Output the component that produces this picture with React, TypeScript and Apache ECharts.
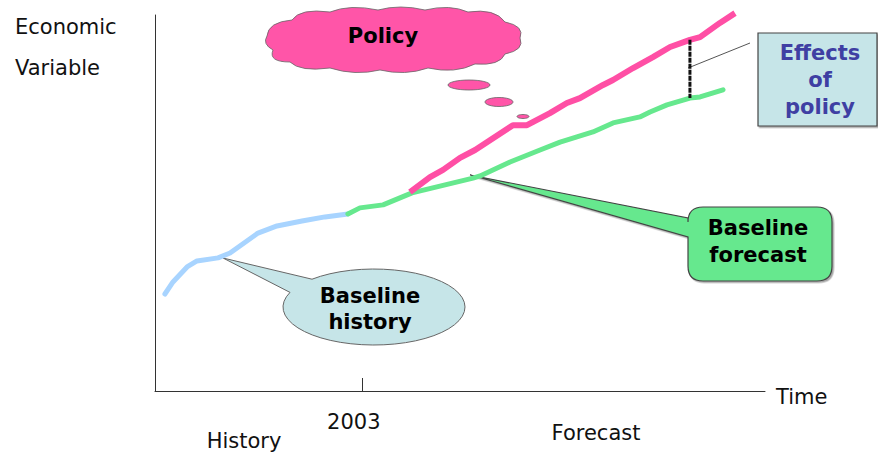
import React, { useEffect, useRef } from "react";
import * as echarts from "echarts";

// ---- data (years on x, index of the economic variable on y) ----
const historyYears = [1993.48, 1993.87, 1994.55, 1995.03, 1996.05, 1996.63, 1997.98, 1998.9, 2000.11, 2001.22, 2002.33];
const historyValues = [25.8, 29.0, 33.0, 34.6, 35.4, 36.7, 42.0, 43.9, 45.2, 46.3, 47.1];

const baselineYears = [2002.33, 2002.91, 2004.03, 2005.43, 2008.38, 2008.72, 2010.17, 2011.62, 2012.59, 2014.18, 2015.15, 2016.45, 2016.94, 2017.76, 2018.87, 2019.36, 2020.47];
const baselineValues = [47.1, 48.7, 49.5, 52.7, 56.6, 57.2, 60.9, 64.1, 66.2, 68.9, 71.3, 72.9, 74.2, 76.1, 77.9, 78.2, 80.1];

const policyYears = [2005.33, 2006.3, 2006.93, 2007.75, 2008.48, 2010.31, 2010.99, 2012.1, 2012.92, 2013.55, 2014.67, 2015.15, 2016.12, 2017.08, 2017.91, 2018.87, 2019.36, 2020.32, 2021.05];
const policyValues = [52.9, 56.9, 58.8, 62.0, 64.1, 70.7, 70.7, 73.9, 76.6, 77.9, 81.4, 82.7, 85.9, 88.8, 91.5, 93.4, 94.1, 97.9, 100.5];

const effectYear = 2018.87;
const splitYear = 2003;
const xMin = 1993;
const xMax = 2022.5;

const pair = (xs: number[], ys: number[]) => xs.map((x, i) => [x, ys[i]]);

// ---- shapes ----
const cloudPath =
  "M267,36 Q268,22 292,20 Q300,8 330,12 Q350,4 378,10 Q400,4 425,10 Q450,4 468,12 Q495,8 505,22 Q525,26 520,38 Q525,50 505,54 Q500,66 475,64 Q455,74 428,68 Q405,76 380,70 Q355,76 330,68 Q300,72 290,62 Q268,62 273,50 Q262,44 267,36 Z";
const historyBubblePath = "M223,258 L312,279.2 A91,38 0 1 1 290,292.4 Z";
const forecastBoxPath =
  "M703,207 L817,207 Q832,207 832,222 L832,266 Q832,281 817,281 L703,281 Q688,281 688,266 L688,237 L478,177 L470,175 L688,218 L688,222 Q688,207 703,207 Z";

echarts.graphic.registerShape("policyCloud", echarts.graphic.extendPath(cloudPath, {}) as any);
echarts.graphic.registerShape("historyBubble", echarts.graphic.extendPath(historyBubblePath, {}) as any);
echarts.graphic.registerShape("forecastBox", echarts.graphic.extendPath(forecastBoxPath, {}) as any);

const FONT = "DejaVu Sans, Verdana, sans-serif";

export default function App() {
  const ref = useRef<HTMLDivElement>(null);

  useEffect(() => {
    if (!ref.current) return;
    const chart = echarts.init(ref.current, undefined, { renderer: "svg" });

    const pIdx = policyYears.indexOf(effectYear);
    const bIdx = baselineYears.indexOf(effectYear);

    const boldText = (text: string, x: number, y: number, fill: string, lineHeight = 27) => ({
      type: "text",
      x,
      y,
      z: 10,
      style: {
        text,
        fill,
        fontFamily: FONT,
        fontWeight: "bold",
        fontSize: 21,
        lineHeight,
        align: "center",
        verticalAlign: "middle",
      },
    });
    const plainText = (text: string, x: number, y: number, align = "center", lineHeight = 22) => ({
      type: "text",
      x,
      y,
      style: {
        text,
        fill: "#111",
        fontFamily: FONT,
        fontSize: 21,
        lineHeight,
        align,
        verticalAlign: "middle",
      },
    });

    chart.setOption({
      animation: false,
      backgroundColor: "#fff",
      grid: { left: 155, right: 113, top: 15, bottom: 69 },
      xAxis: {
        type: "value",
        min: xMin,
        max: xMax,
        axisLine: { show: true, onZero: false, lineStyle: { color: "#333", width: 1 } },
        axisTick: { show: true, inside: true, length: 13, customValues: [splitYear], lineStyle: { color: "#333" } },
        axisLabel: {
          show: true,
          customValues: [splitYear],
          formatter: (v: number) => String(v),
          margin: 20,
          padding: [0, 16, 0, 0],
          fontFamily: FONT,
          fontSize: 21,
          color: "#111",
        },
        splitLine: { show: false },
      },
      yAxis: {
        type: "value",
        min: 0,
        max: 100,
        axisLine: { show: true, lineStyle: { color: "#333", width: 1 } },
        axisTick: { show: false },
        axisLabel: { show: false },
        splitLine: { show: false },
      },
      graphic: [
        plainText("Economic\nVariable", 15, 47.5, "left", 41),
        plainText("Time", 776, 397, "left"),
        plainText("History", 244, 441),
        plainText("Forecast", 596, 433),
        {
          type: "policyCloud",
          style: { fill: "#FF55A8", stroke: "#666", lineWidth: 0.8 },
        },
        { type: "ellipse", shape: { cx: 469, cy: 85, rx: 21, ry: 5 }, style: { fill: "#FF55A8", stroke: "#666", lineWidth: 0.8 } },
        { type: "ellipse", shape: { cx: 499, cy: 102, rx: 14, ry: 4.5 }, style: { fill: "#FF55A8", stroke: "#666", lineWidth: 0.8 } },
        { type: "ellipse", shape: { cx: 523, cy: 116.5, rx: 6, ry: 2 }, style: { fill: "#FF55A8", stroke: "#666", lineWidth: 0.8 } },
        boldText("Policy", 383, 36, "#000"),
        {
          type: "historyBubble",
          style: { fill: "#C6E5E8", stroke: "#666", lineWidth: 1 },
        },
        boldText("Baseline\nhistory", 370, 309, "#000", 26),
        {
          type: "forecastBox",
          style: { fill: "#66E88E", stroke: "#444", lineWidth: 1.2, shadowColor: "rgba(0,0,0,0.35)", shadowOffsetX: 1.5, shadowOffsetY: 1.5, shadowBlur: 1 },
        },
        boldText("Baseline\nforecast", 758, 241, "#000", 27),
        {
          type: "rect",
          shape: { x: 758, y: 33, width: 119, height: 93 },
          style: { fill: "#C6E5E8", stroke: "#444", lineWidth: 1.2, shadowColor: "rgba(0,0,0,0.35)", shadowOffsetX: 1.5, shadowOffsetY: 1.5, shadowBlur: 1 },
        },
        boldText("Effects\nof\npolicy", 820, 80, "#3F3FA3", 27),
        {
          type: "line",
          shape: { x1: 688, y1: 68, x2: 750, y2: 43 },
          style: { stroke: "#555", lineWidth: 1 },
        },
      ],
      series: [
        {
          name: "Baseline history",
          type: "line",
          data: pair(historyYears, historyValues),
          symbol: "none",
          clip: false,
          lineStyle: { color: "#A8D4FF", width: 5, cap: "round", join: "round" },
          z: 3,
        },
        {
          name: "Baseline forecast",
          type: "line",
          data: pair(baselineYears, baselineValues),
          symbol: "none",
          clip: false,
          lineStyle: { color: "#66E88E", width: 5, cap: "round", join: "round" },
          z: 3,
        },
        {
          name: "Policy",
          type: "line",
          data: pair(policyYears, policyValues),
          symbol: "none",
          clip: false,
          lineStyle: { color: "#FF4FA5", width: 6, cap: "butt", join: "round" },
          z: 4,
        },
        {
          name: "Effects of policy",
          type: "line",
          data: [
            [effectYear, policyValues[pIdx]],
            [effectYear, baselineValues[bIdx]],
          ],
          symbol: "none",
          clip: false,
          lineStyle: { color: "#111", width: 3, type: [5, 1] },
          z: 5,
        },
      ],
    });

    return () => chart.dispose();
  }, []);

  return <div ref={ref} style={{ position: "fixed", left: 0, top: 0, width: 878, height: 460 }} />;
}
